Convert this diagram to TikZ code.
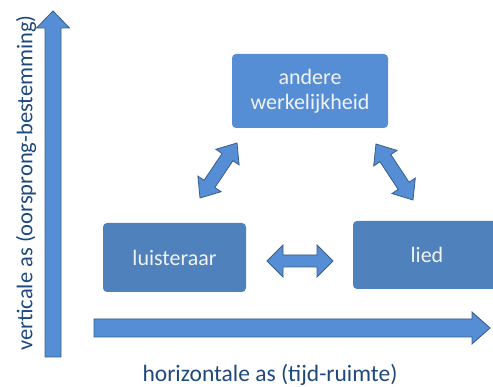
\documentclass[tikz,border=0pt]{standalone}
\usepackage{fontspec}
\setmainfont{Carlito}
\usetikzlibrary{positioning, calc}
\definecolor{boxblue}{RGB}{79,129,189}
\definecolor{boxlight}{RGB}{85,142,213}
\definecolor{arrowline}{RGB}{56,93,138}
\definecolor{labelblue}{RGB}{31,73,125}

% block arrow with a head at both ends: from, to, half shaft, half head, head length
\newcommand{\dualarrow}[5]{%
  \draw[blockarrow] (#1)
    -- ($(#1)!#5!(#2)!#4!90:(#2)$)
    -- ($(#1)!#5!(#2)!#3!90:(#2)$)
    -- ($(#2)!#5!(#1)!#3!-90:(#1)$)
    -- ($(#2)!#5!(#1)!#4!-90:(#1)$)
    -- (#2)
    -- ($(#2)!#5!(#1)!#4!90:(#1)$)
    -- ($(#2)!#5!(#1)!#3!90:(#1)$)
    -- ($(#1)!#5!(#2)!#3!-90:(#2)$)
    -- ($(#1)!#5!(#2)!#4!-90:(#2)$)
    -- cycle;}
% block arrow with one head
\newcommand{\axisarrow}[5]{%
  \draw[blockarrow] ($(#1)!#3!90:(#2)$)
    -- ($(#2)!#5!(#1)!#3!-90:(#1)$)
    -- ($(#2)!#5!(#1)!#4!-90:(#1)$)
    -- (#2)
    -- ($(#2)!#5!(#1)!#4!90:(#1)$)
    -- ($(#2)!#5!(#1)!#3!90:(#1)$)
    -- ($(#1)!#3!-90:(#2)$)
    -- cycle;}

\begin{document}
\begin{tikzpicture}[x=1pt, y=-1pt,
    box/.style={rounded corners=4pt, text=white!95!black, align=center,
                font=\fontsize{22}{25}\selectfont, inner sep=0pt},
    blockarrow/.style={fill=boxlight, draw=arrowline, line width=0.8pt, line join=miter},
    axislabel/.style={text=labelblue, font=\fontsize{23.5}{26}\selectfont}]
    \useasboundingbox (0,0) rectangle (493,387);

    % boxes
    \node[box, fill=boxlight, minimum width=156pt, minimum height=74pt] (andere) at (310,91)
        {andere\\werkelijkheid};
    \node[box, fill=boxblue, minimum width=143pt, minimum height=69pt] (luisteraar) at (174.5,257.5)
        {luisteraar};
    \node[box, fill=boxblue, minimum width=148pt, minimum height=68pt] (lied) at (427,255)
        {lied};

    % axes
    \coordinate (vstart) at (53,357);
    \coordinate (vend) at (53,11);
    \coordinate (hstart) at (94,328);
    \coordinate (hend) at (490,328);
    \axisarrow{vstart}{vend}{8pt}{16.5pt}{17pt}
    \axisarrow{hstart}{hend}{9pt}{16pt}{18pt}

    % links between the boxes
    \coordinate (lu-a) at (200,198);
    \coordinate (an-l) at (237,143);
    \coordinate (an-r) at (376,144);
    \coordinate (li-a) at (413,200);
    \coordinate (lu-li) at (267,261);
    \coordinate (li-lu) at (333,261);
    \dualarrow{lu-a}{an-l}{6.5pt}{14pt}{17pt}
    \dualarrow{an-r}{li-a}{6.5pt}{14pt}{17pt}
    \dualarrow{lu-li}{li-lu}{6pt}{16pt}{16pt}

    % axis labels
    \node[axislabel, rotate=90, font=\fontsize{22.5}{26}\selectfont] (vlabel) at (26,183)
        {verticale as (oorsprong-bestemming)};
    \node[axislabel] (hlabel) at (270,375) {horizontale as (tijd-ruimte)};
\end{tikzpicture}
\end{document}
